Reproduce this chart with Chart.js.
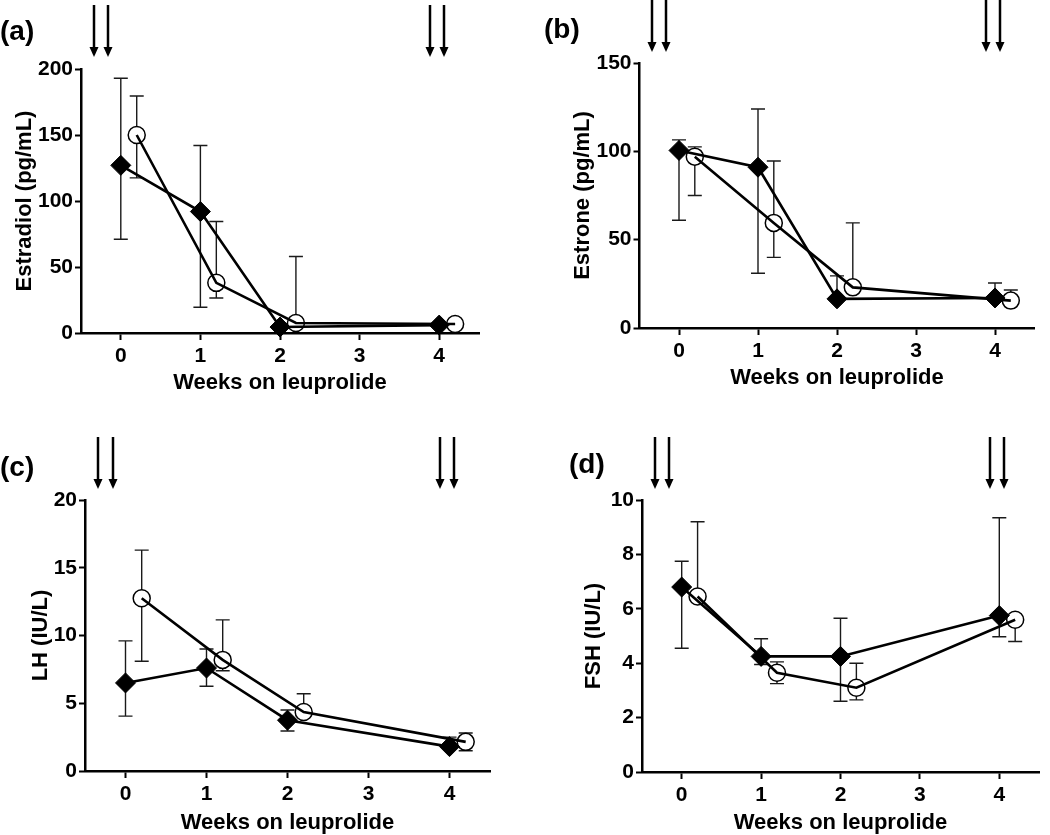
<!DOCTYPE html>
<html>
<head>
<meta charset="utf-8">
<script src="https://cdn.jsdelivr.net/npm/chart.js@4.4.1/dist/chart.umd.min.js"></script>
<style>
  body { margin: 0; background: #fff; }
  #wrap { position: relative; width: 1050px; height: 835px; }
  canvas { position: absolute; }
</style>
</head>
<body>
<div id="wrap">
  <canvas id="pa" width="520" height="400" style="left:0;top:0"></canvas>
  <canvas id="pb" width="530" height="400" style="left:520px;top:0"></canvas>
  <canvas id="pc" width="520" height="435" style="left:0;top:400px"></canvas>
  <canvas id="pd" width="530" height="435" style="left:520px;top:400px"></canvas>
</div>
<script>
// weeks on leuprolide (open circles are drawn a little to the right)
var weeks = [0, 1, 2, 4];
var weeksShifted = [0.2, 1.2, 2.2, 4.2];
var weekTicks = [0, 1, 2, 3, 4];
var arrowWeeks = [-0.34, -0.16, 3.88, 4.06];

// (a) Estradiol (pg/mL)
var e2Diamond = [127, 92, 4.5, 6];
var e2DiamondHi = [193, 142, null, null];
var e2DiamondLo = [71, 19.5, null, null];
var e2Circle = [150, 38, 7.6, 6.8];
var e2CircleHi = [179.5, 84.5, 58, null];
var e2CircleLo = [117.5, 26.5, null, null];

// (b) Estrone (pg/mL)
var e1Diamond = [100.5, 91, 16.5, 17];
var e1DiamondHi = [106.5, 124, 29.5, 25.5];
var e1DiamondLo = [61, 31, null, null];
var e1Circle = [97, 59.5, 23, 15.5];
var e1CircleHi = [102.5, 94.5, 59.5, 21.5];
var e1CircleLo = [75, 40, null, null];

// (c) LH (IU/L)
var lhDiamond = [6.5, 7.6, 3.75, 1.8];
var lhDiamondHi = [9.6, 9.0, 4.5, 2.5];
var lhDiamondLo = [4.05, 6.25, 2.95, null];
var lhCircle = [12.75, 8.2, 4.35, 2.15];
var lhCircleHi = [16.3, 11.15, 5.7, 2.8];
var lhCircleLo = [8.1, 7.4, null, 1.5];

// (d) FSH (IU/L)
var fshDiamond = [6.8, 4.25, 4.25, 5.75];
var fshDiamondHi = [7.75, 4.9, 5.65, 9.35];
var fshDiamondLo = [4.55, 3.95, 2.6, 4.97];
var fshCircle = [6.45, 3.65, 3.1, 5.6];
var fshCircleHi = [9.2, 4.05, 4.0, null];
var fshCircleLo = [null, 3.25, 2.65, 4.8];

var FONT = '"Liberation Sans", Arial, sans-serif';

function pts(xs, ys) {
  return xs.map(function(x, i) { return {x: x, y: ys[i]}; });
}

function makePanel(c) {
  var bars = [
    {x: weeks, y: c.dia, hi: c.diaHi, lo: c.diaLo},
    {x: weeksShifted, y: c.cir, hi: c.cirHi, lo: c.cirLo}
  ];

  var extras = {
    id: 'extras',
    beforeDatasetsDraw: function(chart) {
      var ctx = chart.ctx, xs = chart.scales.x, ys = chart.scales.y;
      ctx.save();
      ctx.strokeStyle = '#1a1a1a';
      ctx.lineWidth = 1.4;
      bars.forEach(function(b) {
        b.y.forEach(function(v, i) {
          var px = xs.getPixelForValue(b.x[i]);
          var py = ys.getPixelForValue(v);
          [b.hi[i], b.lo[i]].forEach(function(e) {
            if (e == null) return;
            var pe = ys.getPixelForValue(e);
            ctx.beginPath();
            ctx.moveTo(px, py); ctx.lineTo(px, pe);
            ctx.moveTo(px - 7, pe); ctx.lineTo(px + 7, pe);
            ctx.stroke();
          });
        });
      });
      ctx.restore();
    },
    afterDraw: function(chart) {
      var ctx = chart.ctx, xs = chart.scales.x;
      ctx.save();
      ctx.fillStyle = '#000';
      ctx.strokeStyle = '#000';
      ctx.lineWidth = 2.5;
      arrowWeeks.forEach(function(w) {
        var x = Math.round(xs.getPixelForValue(w));
        ctx.beginPath();
        ctx.moveTo(x, c.arrowTop);
        ctx.lineTo(x, c.arrowBottom - 8);
        ctx.stroke();
        ctx.beginPath();
        ctx.moveTo(x - 4.5, c.arrowBottom - 10);
        ctx.lineTo(x + 4.5, c.arrowBottom - 10);
        ctx.lineTo(x, c.arrowBottom);
        ctx.closePath();
        ctx.fill();
      });
      ctx.font = 'bold 28px ' + FONT;
      ctx.textBaseline = 'middle';
      ctx.textAlign = 'left';
      ctx.fillText(c.label, c.labelX, c.labelY);
      ctx.restore();
    }
  };

  var tickFont = {family: FONT, size: 21, weight: 'bold'};
  var titleFont = {family: FONT, size: 22, weight: 'bold', lineHeight: 1};

  new Chart(document.getElementById(c.id), {
    type: 'line',
    data: {
      datasets: [
        {data: pts(weeks, c.dia), showLine: false, pointStyle: 'rectRot', pointRadius: 10,
         pointBackgroundColor: '#000', pointBorderColor: '#000', pointBorderWidth: 1, order: 2, clip: false},
        {data: pts(weeksShifted, c.cir), showLine: false, pointStyle: 'circle', pointRadius: 8.5,
         pointBackgroundColor: '#fff', pointBorderColor: '#000', pointBorderWidth: 1.5, order: 2, clip: false},
        {data: pts(weeks, c.dia), borderColor: '#000', borderWidth: 2.6, pointRadius: 0, order: 1, clip: false},
        {data: pts(weeksShifted, c.cir), borderColor: '#000', borderWidth: 2.6, pointRadius: 0, order: 1, clip: false}
      ]
    },
    options: {
      responsive: false,
      animation: false,
      devicePixelRatio: 1,
      layout: {padding: c.pad},
      plugins: {legend: {display: false}, tooltip: {enabled: false}},
      scales: {
        x: {
          type: 'linear', min: -0.5, max: 4.5,
          afterBuildTicks: function(s) { s.ticks = weekTicks.map(function(v) { return {value: v}; }); },
          afterFit: function(s) { s.height = c.xH; },
          border: {display: true, color: '#000', width: 2.5},
          grid: {drawOnChartArea: false, drawTicks: true, tickLength: 7, tickWidth: 2, tickColor: '#000'},
          ticks: {color: '#000', font: tickFont, padding: 4, maxRotation: 0},
          title: {display: true, text: 'Weeks on leuprolide', color: '#000', font: titleFont, padding: 0}
        },
        y: {
          min: 0, max: c.yMax,
          afterFit: function(s) { s.width = c.yW; },
          border: {display: true, color: '#000', width: 2.5},
          grid: {drawOnChartArea: false, drawTicks: true, tickLength: 6, tickWidth: 2, tickColor: '#000'},
          ticks: {stepSize: c.yStep, color: '#000', font: tickFont, padding: 2},
          title: {display: true, text: c.yTitle, color: '#000', font: titleFont, padding: 0}
        }
      }
    },
    plugins: [extras]
  });
}

makePanel({id: 'pa', label: '(a)', labelX: 0, labelY: 32, arrowTop: 5, arrowBottom: 57,
  yTitle: 'Estradiol (pg/mL)', yMax: 200, yStep: 50,
  pad: {left: 14, top: 69, right: 41, bottom: 6}, yW: 67, xH: 61,
  dia: e2Diamond, diaHi: e2DiamondHi, diaLo: e2DiamondLo,
  cir: e2Circle, cirHi: e2CircleHi, cirLo: e2CircleLo});

makePanel({id: 'pb', label: '(b)', labelX: 24, labelY: 30, arrowTop: 0, arrowBottom: 52,
  yTitle: 'Estrone (pg/mL)', yMax: 150, yStep: 50,
  pad: {left: 52, top: 63, right: 15.5, bottom: 11}, yW: 67.5, xH: 61,
  dia: e1Diamond, diaHi: e1DiamondHi, diaLo: e1DiamondLo,
  cir: e1Circle, cirHi: e1CircleHi, cirLo: e1CircleLo});

makePanel({id: 'pc', label: '(c)', labelX: 0, labelY: 68, arrowTop: 37, arrowBottom: 89,
  yTitle: 'LH (IU/L)', yMax: 20, yStep: 5,
  pad: {left: 30, top: 100, right: 30, bottom: 1}, yW: 55, xH: 63,
  dia: lhDiamond, diaHi: lhDiamondHi, diaLo: lhDiamondLo,
  cir: lhCircle, cirHi: lhCircleHi, cirLo: lhCircleLo});

makePanel({id: 'pd', label: '(d)', labelX: 49, labelY: 65, arrowTop: 37, arrowBottom: 89,
  yTitle: 'FSH (IU/L)', yMax: 10, yStep: 2,
  pad: {left: 63, top: 100, right: 2, bottom: 1}, yW: 59, xH: 62,
  dia: fshDiamond, diaHi: fshDiamondHi, diaLo: fshDiamondLo,
  cir: fshCircle, cirHi: fshCircleHi, cirLo: fshCircleLo});
</script>
</body>
</html>
